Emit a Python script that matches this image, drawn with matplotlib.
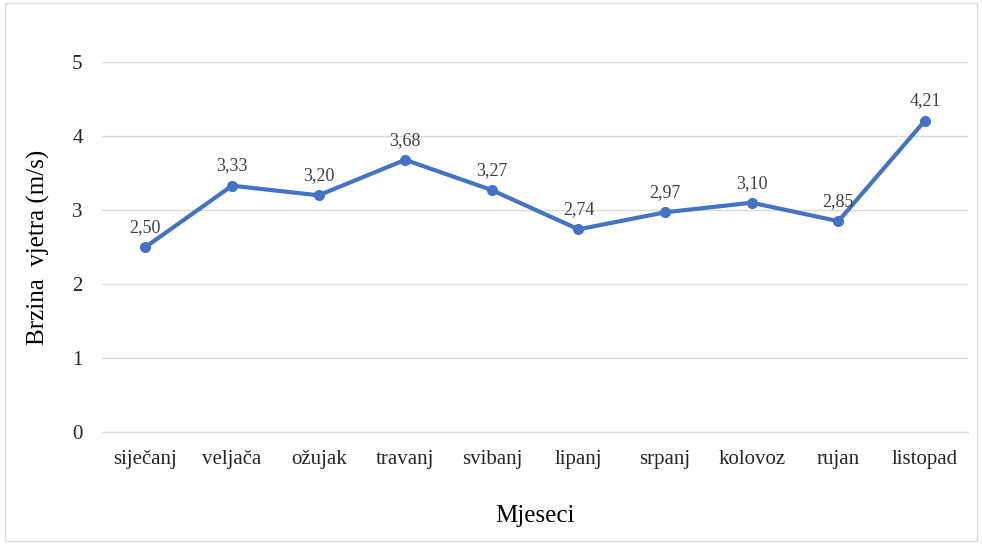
import matplotlib.pyplot as plt
from matplotlib.patches import Rectangle

months = ["siječanj", "veljača", "ožujak", "travanj", "svibanj",
          "lipanj", "srpanj", "kolovoz", "rujan", "listopad"]
speeds = [2.50, 3.33, 3.20, 3.68, 3.27, 2.74, 2.97, 3.10, 2.85, 4.21]
yticks = [0, 1, 2, 3, 4, 5]

plt.rcParams['font.family'] = ['Liberation Serif', 'DejaVu Serif']

fig = plt.figure(figsize=(9.82, 5.46), dpi=100)
ax = fig.add_axes([0.104, 0.209, 0.882, 0.677])

x = list(range(len(months)))
ax.plot(x, speeds, color="#4472C4", linewidth=3, marker="o", markersize=7, zorder=3)
for xi, v in zip(x, speeds):
    ax.annotate(f"{v:.2f}".replace(".", ","), (xi, v), xytext=(0, 8),
                textcoords="offset points", ha="center", va="bottom",
                fontsize=13, color="#404040")

ax.set_xlim(-0.5, len(months) - 0.5)
ax.set_ylim(0, 5)
ax.set_yticks(yticks)
ax.set_xticks(x)
ax.set_xticklabels(months)
ax.grid(axis="y", color="#d9d9d9", linewidth=1)
ax.set_axisbelow(True)
for s in ["top", "right", "left"]:
    ax.spines[s].set_visible(False)
ax.spines["bottom"].set_color("#d9d9d9")
ax.tick_params(length=0, labelsize=15, colors="#262626", pad=13)
ax.tick_params(axis="y", pad=14)

ax.set_ylabel("Brzina  vjetra (m/s)", fontsize=18, labelpad=16)
ax.set_xlabel("Mjeseci", fontsize=18, labelpad=26)

fig.patches.append(Rectangle((0.005, 0.01), 0.99, 0.985, transform=fig.transFigure,
                             fill=False, edgecolor="#d9d9d9", linewidth=1))

fig.savefig("out.png", dpi=100)
